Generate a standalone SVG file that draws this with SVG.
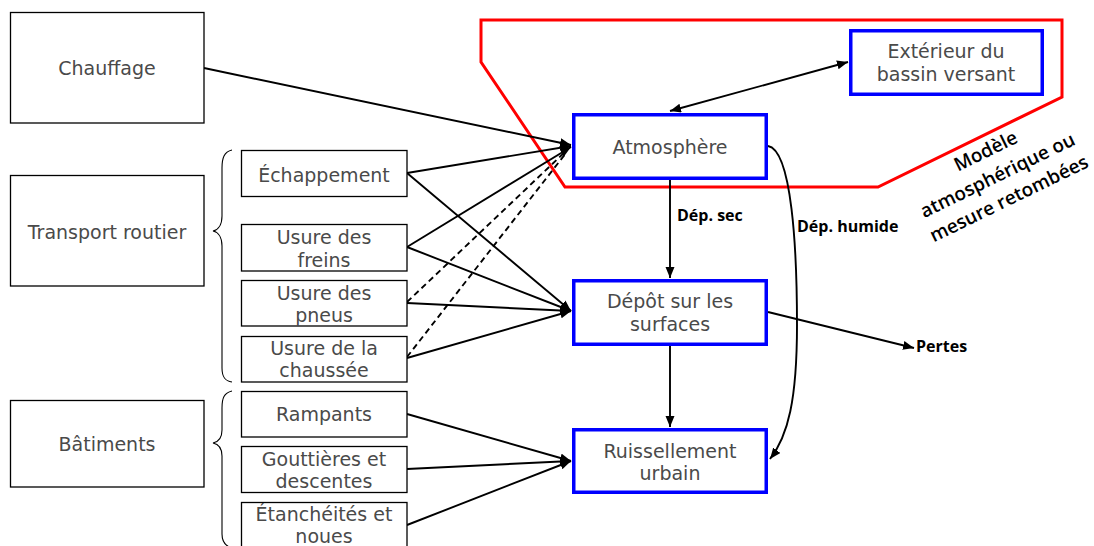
<svg xmlns="http://www.w3.org/2000/svg" width="1094" height="546" viewBox="0 0 1094 546">
<defs>
<style>
.box{fill:#fff;stroke:#000;stroke-width:1.3}
.bbox{fill:#fff;stroke:#0000ff;stroke-width:3.5}
.t{font-family:"DejaVu Sans",sans-serif;font-size:19px;fill:#4a4a4a;text-anchor:middle}
.lbl{font-family:"Open Sans",sans-serif;font-size:16px;font-weight:bold;fill:#000}
.conn{fill:none;stroke:#000;stroke-width:1.9}
.dash{stroke-dasharray:6,4}
.brace{fill:none;stroke:#000;stroke-width:1.1}
.rot{font-family:"Open Sans",sans-serif;font-size:19px;font-weight:600;fill:#000;text-anchor:middle}
</style>
<marker id="ah" markerUnits="userSpaceOnUse" markerWidth="12" markerHeight="10" refX="11" refY="4.5" orient="auto-start-reverse">
<path d="M0,0 L11,4.5 L0,9 z" fill="#000"/>
</marker>
</defs>
<rect width="1094" height="546" fill="#fff"/>

<g id="zone-modele">
<polygon points="481,20 1062,20 1062,97 878,187 565,187 481,62" fill="none" stroke="#ff0000" stroke-width="3"/>
<g transform="translate(1000.4,181.1) rotate(-26)">
<text class="rot" x="0" y="-27">Modèle</text>
<text class="rot" x="0" y="0">atmosphérique ou</text>
<text class="rot" x="0" y="26">mesure retombées</text>
</g>
</g>

<g id="connectors">
<line class="conn" x1="204" y1="68" x2="571" y2="145" marker-end="url(#ah)"/>
<line class="conn" x1="407" y1="173" x2="571" y2="146" marker-end="url(#ah)"/>
<line class="conn" x1="407" y1="247" x2="571" y2="147" marker-end="url(#ah)"/>
<line class="conn dash" x1="407" y1="302" x2="566" y2="151"/>
<line class="conn dash" x1="407" y1="357" x2="566" y2="153"/>
<line class="conn" x1="407" y1="173" x2="571" y2="311" marker-end="url(#ah)"/>
<line class="conn" x1="407" y1="247" x2="571" y2="311" marker-end="url(#ah)"/>
<line class="conn" x1="407" y1="303" x2="571" y2="311" marker-end="url(#ah)"/>
<line class="conn" x1="407" y1="358" x2="571" y2="311" marker-end="url(#ah)"/>
<line class="conn" x1="407" y1="414" x2="571" y2="461" marker-end="url(#ah)"/>
<line class="conn" x1="407" y1="469" x2="571" y2="461" marker-end="url(#ah)"/>
<line class="conn" x1="407" y1="525" x2="571" y2="461" marker-end="url(#ah)"/>
<line class="conn" x1="670" y1="180" x2="670" y2="278" marker-end="url(#ah)"/>
<line class="conn" x1="670" y1="346" x2="670" y2="427" marker-end="url(#ah)"/>
<line class="conn" x1="768" y1="312" x2="914" y2="348" marker-end="url(#ah)"/>
<line class="conn" x1="670" y1="111" x2="848" y2="62" marker-start="url(#ah)" marker-end="url(#ah)"/>
<path class="conn" d="M768,146 C792,150 797,250 797,325 C797,400 788,436 770,459" marker-end="url(#ah)"/>
<text class="lbl" x="677" y="221">Dép. sec</text>
<text class="lbl" x="797" y="232">Dép. humide</text>
<text class="lbl" x="916" y="352">Pertes</text>
</g>

<g id="braces">
<path class="brace" d="M232,150 C224,152 222,158 222,168 L222,216 C222,225 218,230 213,231 C218,232 222,237 222,246 L222,368 C222,377 225,381 232,382"/>
<path class="brace" d="M232,391 C224,393 222,398 222,408 L222,430 C222,438 218,442 213,443 C218,444 222,448 222,456 L222,534 C222,542 225,546 232,548"/>
</g>

<g id="chauffage"><rect class="box" x="10.5" y="12.5" width="193.5" height="110.5"/><text class="t" x="107" y="75">Chauffage</text></g>
<g id="transport"><rect class="box" x="10.5" y="175.5" width="193.5" height="110.5"/><text class="t" x="107" y="239">Transport routier</text></g>
<g id="batiments"><rect class="box" x="10.5" y="400.5" width="193.5" height="86.5"/><text class="t" x="107" y="451">Bâtiments</text></g>

<g id="echappement"><rect class="box" x="241.5" y="150.5" width="165.5" height="46"/><text class="t" x="324" y="182">Échappement</text></g>
<g id="freins"><rect class="box" x="241.5" y="224.5" width="165.5" height="46.5"/><text class="t" x="324" y="244">Usure des</text><text class="t" x="324" y="267">freins</text></g>
<g id="pneus"><rect class="box" x="241.5" y="280.5" width="165.5" height="45.5"/><text class="t" x="324" y="300">Usure des</text><text class="t" x="324" y="322">pneus</text></g>
<g id="chaussee"><rect class="box" x="241.5" y="336.5" width="165.5" height="45.5"/><text class="t" x="324" y="355">Usure de la</text><text class="t" x="324" y="377">chaussée</text></g>
<g id="rampants"><rect class="box" x="241.5" y="391.5" width="165.5" height="45.5"/><text class="t" x="324" y="421">Rampants</text></g>
<g id="gouttieres"><rect class="box" x="241.5" y="446.5" width="165.5" height="46"/><text class="t" x="324" y="466">Gouttières et</text><text class="t" x="324" y="488">descentes</text></g>
<g id="etancheites"><rect class="box" x="241.5" y="502.5" width="165.5" height="50"/><text class="t" x="324" y="521">Étanchéités et</text><text class="t" x="324" y="543">noues</text></g>

<g id="atmosphere"><rect class="bbox" x="573.75" y="114.75" width="192.5" height="63.5"/><text class="t" x="670" y="154">Atmosphère</text></g>
<g id="depot"><rect class="bbox" x="573.75" y="280.75" width="192.5" height="63.5"/><text class="t" x="670" y="308">Dépôt sur les</text><text class="t" x="670" y="331">surfaces</text></g>
<g id="ruissellement"><rect class="bbox" x="573.75" y="429.75" width="192.5" height="62.5"/><text class="t" x="670" y="458">Ruissellement</text><text class="t" x="670" y="480">urbain</text></g>
<g id="exterieur"><rect class="bbox" x="850.75" y="30.75" width="191.5" height="63.5"/><text class="t" x="946" y="58">Extérieur du</text><text class="t" x="946" y="81">bassin versant</text></g>
</svg>
